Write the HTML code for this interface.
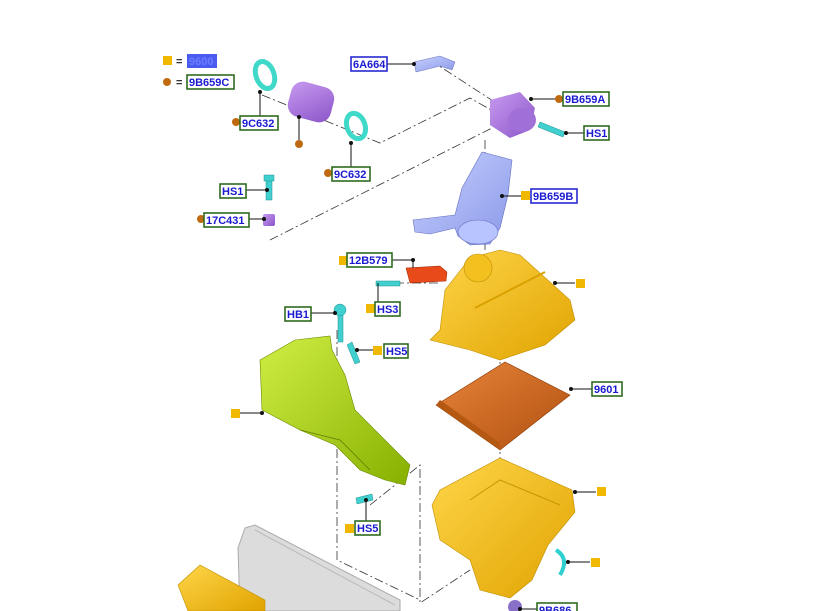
<!DOCTYPE html>
<html><head><meta charset="utf-8"><style>
html,body{margin:0;padding:0;background:#fff;}
svg{display:block;}
text{font-family:"Liberation Sans",sans-serif;font-weight:bold;font-size:11px;fill:#1a1ad0;}
.bg{fill:#fff;stroke:#2f6b1f;stroke-width:1.6;}
.bb{fill:#fff;stroke:#2a2ad0;stroke-width:1.6;}
.ld{stroke:#111;stroke-width:1;fill:none;}
.dd{stroke:#333;stroke-width:0.8;fill:none;stroke-dasharray:9 3 2 3;}
.sq{fill:#f0b800;}
.dot{fill:#c06a10;}
</style></head><body>
<svg width="826" height="611" viewBox="0 0 826 611" xmlns="http://www.w3.org/2000/svg">
<defs>
<linearGradient id="yel" x1="0" y1="0" x2="1" y2="1"><stop offset="0" stop-color="#ffd64a"/><stop offset="1" stop-color="#e0a300"/></linearGradient>
<linearGradient id="grn" x1="0" y1="0" x2="1" y2="1"><stop offset="0" stop-color="#d0ee44"/><stop offset="1" stop-color="#86b000"/></linearGradient>
<linearGradient id="pur" x1="0" y1="0" x2="1" y2="1"><stop offset="0" stop-color="#c89af0"/><stop offset="1" stop-color="#8a55c8"/></linearGradient>
<linearGradient id="blu" x1="0" y1="0" x2="1" y2="1"><stop offset="0" stop-color="#c8d2ff"/><stop offset="1" stop-color="#8a98e8"/></linearGradient>
<linearGradient id="org" x1="0" y1="0" x2="1" y2="1"><stop offset="0" stop-color="#e8843a"/><stop offset="1" stop-color="#b05010"/></linearGradient>
</defs>

<polyline class="dd" points="262,95 380,143 470,98 500,115"/>
<line class="dd" x1="270" y1="240" x2="492" y2="128"/>
<line class="dd" x1="430" y1="60" x2="530" y2="125"/>
<line class="dd" x1="485" y1="140" x2="485" y2="250"/>
<line class="dd" x1="500" y1="350" x2="500" y2="380"/>
<line class="dd" x1="500" y1="440" x2="500" y2="470"/>
<polyline class="dd" points="337,330 337,560 420,600"/>
<polyline class="dd" points="370,505 420,465 420,603 470,570"/>
<line class="dd" x1="378" y1="283" x2="440" y2="283"/>

<polygon points="245,528 255,525 400,600 400,611 240,611 238,548" fill="#dcdcdc" stroke="#aaa"/>
<line x1="255" y1="530" x2="395" y2="605" stroke="#bbb"/>
<polygon points="178,585 200,565 265,600 265,611 188,611" fill="url(#yel)" stroke="#c09000" stroke-width="0.6"/>

<path d="M260,360 L295,340 L330,336 L332,350 L345,375 L355,410 L410,465 L405,485 L385,480 L360,470 L335,445 L300,430 L262,410 Z" fill="url(#grn)" stroke="#6a8a00" stroke-width="0.6"/>
<path d="M300,430 L340,440 L370,470" stroke="#5e7e00" fill="none" stroke-width="0.8"/>

<path d="M440,330 L445,290 L470,258 L500,250 L520,255 L570,300 L575,320 L545,345 L500,360 L470,350 L430,340 Z" fill="url(#yel)" stroke="#c09000" stroke-width="0.6"/>
<circle cx="478" cy="268" r="14" fill="#f4c020" stroke="#c09000" stroke-width="0.6"/>
<path d="M475,308 L545,272" stroke="#d9a000" stroke-width="2"/>
<polygon points="406,268 440,266 447,272 446,281 410,283" fill="#e84a1a" stroke="#a02000" stroke-width="0.5"/>

<polygon points="436,405 505,362 570,395 500,450" fill="url(#org)" stroke="#8a3a00" stroke-width="0.6"/>
<polygon points="436,405 500,450 500,443 440,400" fill="#b55812"/>

<path d="M432,505 L440,490 L500,458 L572,490 L575,512 L548,545 L532,580 L510,598 L480,590 L470,560 L440,540 Z" fill="url(#yel)" stroke="#c09000" stroke-width="0.6"/>
<path d="M470,500 L500,480 L560,505" stroke="#c99600" fill="none"/>
<circle cx="515" cy="607" r="7" fill="#8870c8"/>

<path d="M556,550 C566,556 566,565 560,575" stroke="#30d0d0" stroke-width="4" fill="none"/>

<rect x="289" y="84" width="44" height="36" rx="12" fill="url(#pur)" transform="rotate(15 311 102)"/>
<path d="M490,100 L520,92 L535,108 L530,130 L510,138 L490,125 Z" fill="url(#pur)"/>
<ellipse cx="522" cy="120" rx="14" ry="12" fill="#a070d8"/>
<rect x="263" y="214" width="12" height="12" rx="2" fill="url(#pur)"/>

<path d="M414,62 L440,56 L455,62 L452,70 L440,66 L416,72 Z" fill="url(#blu)" stroke="#6670c0" stroke-width="0.5"/>
<path d="M482,152 L512,160 L508,195 L500,228 L490,244 L470,245 L458,236 L455,228 L430,234 L415,232 L413,220 L430,218 L455,215 L462,188 Z" fill="url(#blu)" stroke="#6670c0" stroke-width="0.6"/>
<ellipse cx="478" cy="232" rx="20" ry="12" fill="#b8c4ff" stroke="#6670c0" stroke-width="0.6"/>

<ellipse cx="265" cy="75" rx="9" ry="14" fill="none" stroke="#40d8c8" stroke-width="5" transform="rotate(-20 265 75)"/>
<ellipse cx="356" cy="126" rx="9" ry="13" fill="none" stroke="#40d8c8" stroke-width="5" transform="rotate(-20 356 126)"/>

<g fill="#40d0d0" stroke="#209090" stroke-width="0.5">
<rect x="266" y="178" width="6" height="22"/><rect x="264" y="175" width="10" height="6"/>
<rect x="338" y="312" width="5" height="30"/><circle cx="340" cy="310" r="6"/>
<polygon points="347,345 352,342 360,362 355,364"/>
<polygon points="540,122 565,132 563,137 538,127"/>
<polygon points="356,498 372,494 373,500 357,504"/>
<polygon points="376,281 400,281 400,286 376,286"/>
</g>

<g class="ld">
<line x1="260" y1="92" x2="260" y2="116"/>
<line x1="299" y1="117" x2="299" y2="140"/>
<line x1="351" y1="143" x2="351" y2="167"/>
<line x1="246" y1="190" x2="267" y2="190"/>
<line x1="249" y1="219" x2="264" y2="219"/>
<line x1="387" y1="64" x2="414" y2="64"/>
<line x1="531" y1="99" x2="563" y2="99"/>
<line x1="566" y1="133" x2="584" y2="133"/>
<line x1="502" y1="196" x2="525" y2="196"/>
<line x1="392" y1="260" x2="413" y2="260"/><line x1="413" y1="260" x2="413" y2="268"/>
<line x1="378" y1="283" x2="378" y2="302"/>
<line x1="555" y1="283" x2="575" y2="283"/>
<line x1="311" y1="313" x2="335" y2="313"/>
<line x1="357" y1="350" x2="377" y2="350"/>
<line x1="262" y1="413" x2="240" y2="413"/>
<line x1="571" y1="389" x2="592" y2="389"/>
<line x1="575" y1="492" x2="596" y2="492"/>
<line x1="366" y1="500" x2="366" y2="522"/>
<line x1="568" y1="562" x2="590" y2="562"/>
<line x1="520" y1="609" x2="537" y2="609"/>
</g>
<g fill="#111">
<circle cx="260" cy="92" r="2"/><circle cx="299" cy="117" r="2"/><circle cx="351" cy="143" r="2"/>
<circle cx="267" cy="190" r="2"/><circle cx="264" cy="219" r="2"/><circle cx="414" cy="64" r="2"/>
<circle cx="531" cy="99" r="2"/><circle cx="566" cy="133" r="2"/><circle cx="502" cy="196" r="2"/>
<circle cx="413" cy="260" r="2"/><circle cx="555" cy="283" r="2"/><circle cx="335" cy="313" r="2"/>
<circle cx="357" cy="350" r="2"/><circle cx="262" cy="413" r="2"/><circle cx="571" cy="389" r="2"/>
<circle cx="575" cy="492" r="2"/><circle cx="366" cy="500" r="2"/><circle cx="568" cy="562" r="2"/><circle cx="520" cy="609" r="2"/>
</g>

<rect class="sq" x="163" y="56" width="9" height="9"/>
<circle class="dot" cx="167" cy="82" r="4"/>
<circle class="dot" cx="236" cy="122" r="4"/>
<circle class="dot" cx="299" cy="144" r="4"/>
<circle class="dot" cx="328" cy="173" r="4"/>
<circle class="dot" cx="201" cy="219" r="4"/>
<circle class="dot" cx="559" cy="99" r="4"/>
<rect class="sq" x="521" y="191" width="9" height="9"/>
<rect class="sq" x="339" y="256" width="9" height="9"/>
<rect class="sq" x="366" y="304" width="9" height="9"/>
<rect class="sq" x="576" y="279" width="9" height="9"/>
<rect class="sq" x="373" y="346" width="9" height="9"/>
<rect class="sq" x="231" y="409" width="9" height="9"/>
<rect class="sq" x="597" y="487" width="9" height="9"/>
<rect class="sq" x="345" y="524" width="9" height="9"/>
<rect class="sq" x="591" y="558" width="9" height="9"/>
<text x="176" y="65" style="fill:#333">=</text>
<text x="176" y="86" style="fill:#333">=</text>

<rect x="187" y="54" width="30" height="14" fill="#4a5cf0"/><text x="189" y="65" style="fill:#6a7cff">9600</text>
<rect class="bg" x="187" y="75" width="47" height="14"/><text x="189" y="86">9B659C</text>
<rect class="bg" x="240" y="116" width="38" height="14"/><text x="242" y="127">9C632</text>
<rect class="bg" x="332" y="167" width="38" height="14"/><text x="334" y="178">9C632</text>
<rect class="bg" x="220" y="184" width="26" height="14"/><text x="222" y="195">HS1</text>
<rect class="bg" x="204" y="213" width="45" height="14"/><text x="206" y="224">17C431</text>
<rect class="bb" x="351" y="57" width="36" height="14"/><text x="353" y="68">6A664</text>
<rect class="bg" x="563" y="92" width="46" height="14"/><text x="565" y="103">9B659A</text>
<rect class="bg" x="584" y="126" width="25" height="14"/><text x="586" y="137">HS1</text>
<rect class="bb" x="531" y="189" width="46" height="14"/><text x="533" y="200">9B659B</text>
<rect class="bg" x="347" y="253" width="45" height="14"/><text x="349" y="264">12B579</text>
<rect class="bg" x="375" y="302" width="25" height="14"/><text x="377" y="313">HS3</text>
<rect class="bg" x="285" y="307" width="26" height="14"/><text x="287" y="318">HB1</text>
<rect class="bg" x="384" y="344" width="24" height="14"/><text x="386" y="355">HS5</text>
<rect class="bg" x="592" y="382" width="30" height="14"/><text x="594" y="393">9601</text>
<rect class="bg" x="355" y="521" width="25" height="14"/><text x="357" y="532">HS5</text>
<rect class="bg" x="537" y="603" width="40" height="14"/><text x="539" y="614">9B686</text>
</svg>
</body></html>
